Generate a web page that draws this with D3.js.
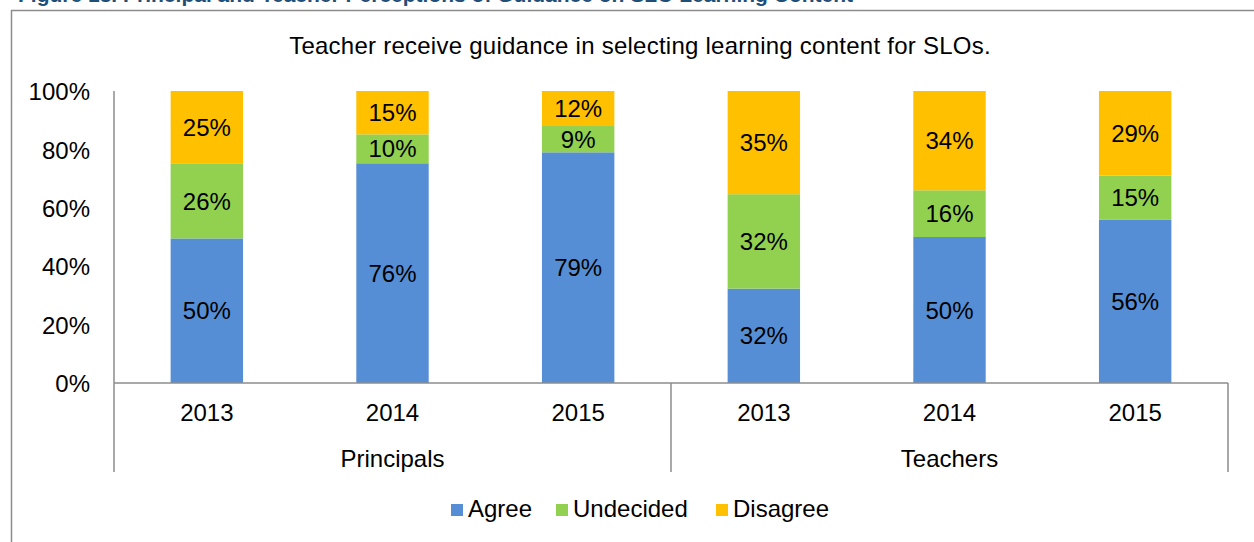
<!DOCTYPE html>
<html>
<head>
<meta charset="utf-8">
<script src="https://cdn.jsdelivr.net/npm/d3@7"></script>
<style>
  html, body { margin: 0; padding: 0; background: #fff; }
  svg { display: block; }
  text { font-family: "Liberation Sans", Arial, Helvetica, sans-serif; fill: #000; }
</style>
</head>
<body>
<svg id="chart" width="1254" height="542"></svg>
<script>
// ---- data ----
const groups = ["Principals", "Teachers"];
const years = ["2013", "2014", "2015"];
const seriesNames = ["Agree", "Undecided", "Disagree"];
const seriesColors = ["#558ED5", "#92D050", "#FFC000"];
const agree     = [50, 76, 79, 32, 50, 56];
const undecided = [26, 10,  9, 32, 16, 15];
const disagree  = [25, 15, 12, 35, 34, 29];
const yTicks = [0, 0.2, 0.4, 0.6, 0.8, 1.0];
const chartTitle = "Teacher receive guidance in selecting learning content for SLOs.";
const figureCaption = "Figure 13. Principal and Teacher Perceptions of Guidance on SLO Learning Content";

(function () {
// ---- build rows ----
const rows = [];
groups.forEach((g, gi) => years.forEach((yr, yi) => {
  const i = gi * years.length + yi;
  rows.push({ group: g, year: yr, Agree: agree[i], Undecided: undecided[i], Disagree: disagree[i] });
}));

const svg = d3.select("#chart");
const W = 1254, H = 542;
svg.append("rect").attr("width", W).attr("height", H).attr("fill", "#fff");

// caption (cut off at top edge, as in the reference)
svg.append("text").attr("x", 18).attr("y", 2)
  .style("font-weight", "bold").style("font-size", "21px").style("fill", "#1F4E79")
  .text(figureCaption);

// frame
svg.append("rect").attr("x", 11.5).attr("y", 10.5).attr("width", 1300).attr("height", 600)
  .attr("fill", "none").attr("stroke", "#8c8c8c").attr("stroke-width", 1.5);

// title
svg.append("text").attr("x", 640).attr("y", 54).attr("text-anchor", "middle")
  .style("font-size", "24px").style("letter-spacing", "0.25px").text(chartTitle);

// scales
const pLeft = 114, pRight = 1228, pTop = 91, pBottom = 383, axisBottom = 472;
const x0 = d3.scaleBand().domain(groups).range([pLeft, pRight]).padding(0);
const x1 = d3.scaleBand().domain(years).range([0, x0.bandwidth()]).paddingInner(0.61).paddingOuter(0.305);
const y = d3.scaleLinear().domain([0, 1]).range([pBottom, pTop]);

// stacked (100%)
const stack = d3.stack().keys(seriesNames).offset(d3.stackOffsetExpand);
const stacked = stack(rows);
const color = d3.scaleOrdinal().domain(seriesNames).range(seriesColors);

const layers = svg.append("g").selectAll("g").data(stacked).join("g")
  .attr("fill", d => color(d.key));
layers.selectAll("rect").data(d => d).join("rect")
  .attr("x", d => x0(d.data.group) + x1(d.data.year))
  .attr("width", x1.bandwidth())
  .attr("y", d => y(d[1]))
  .attr("height", d => y(d[0]) - y(d[1]));

// data labels
const lbl = svg.append("g");
stacked.forEach(layer => {
  lbl.append("g").selectAll("text").data(layer).join("text")
    .attr("x", d => x0(d.data.group) + x1(d.data.year) + x1.bandwidth() / 2)
    .attr("y", d => (y(d[0]) + y(d[1])) / 2)
    .attr("dy", "0.36em")
    .attr("text-anchor", "middle")
    .style("font-size", "24px")
    .text(d => d.data[layer.key] + "%");
});

// y axis
const yAxis = d3.axisLeft(y).tickValues(yTicks).tickFormat(d3.format(".0%")).tickSize(0).tickPadding(24);
const yg = svg.append("g").attr("transform", `translate(${pLeft},0)`).call(yAxis);
yg.select(".domain").remove();
yg.selectAll("text").style("font-size", "24px").attr("dy", "0.36em").style("fill", "#000")
  .style("font-family", '"Liberation Sans", Arial, sans-serif');

const axisColor = "#8c8c8c";
svg.append("line").attr("x1", pLeft).attr("x2", pLeft).attr("y1", pTop).attr("y2", axisBottom)
  .attr("stroke", axisColor).attr("stroke-width", 1.5);
svg.append("line").attr("x1", pLeft).attr("x2", pRight).attr("y1", y(0)).attr("y2", y(0))
  .attr("stroke", axisColor).attr("stroke-width", 1.5);
svg.append("g").selectAll("line").data(groups).join("line")
  .attr("x1", d => x0(d) + x0.bandwidth()).attr("x2", d => x0(d) + x0.bandwidth())
  .attr("y1", y(0)).attr("y2", axisBottom)
  .attr("stroke", axisColor).attr("stroke-width", 1.5);

// year labels
svg.append("g").selectAll("text").data(rows).join("text")
  .attr("x", r => x0(r.group) + x1(r.year) + x1.bandwidth() / 2)
  .attr("y", 421).attr("text-anchor", "middle")
  .style("font-size", "24px").text(r => r.year);
// group labels
svg.append("g").selectAll("text").data(groups).join("text")
  .attr("x", d => x0(d) + x0.bandwidth() / 2)
  .attr("y", 467).attr("text-anchor", "middle")
  .style("font-size", "24px").text(d => d);

// legend
const legendX = [451, 556, 716];
const lg = svg.append("g");
seriesNames.forEach((s, i) => {
  lg.append("rect").attr("x", legendX[i]).attr("y", 504).attr("width", 12).attr("height", 12)
    .attr("fill", color(s));
  lg.append("text").attr("x", legendX[i] + 17).attr("y", 517)
    .style("font-size", "24px").text(s);
});
})();
</script>
</body>
</html>
